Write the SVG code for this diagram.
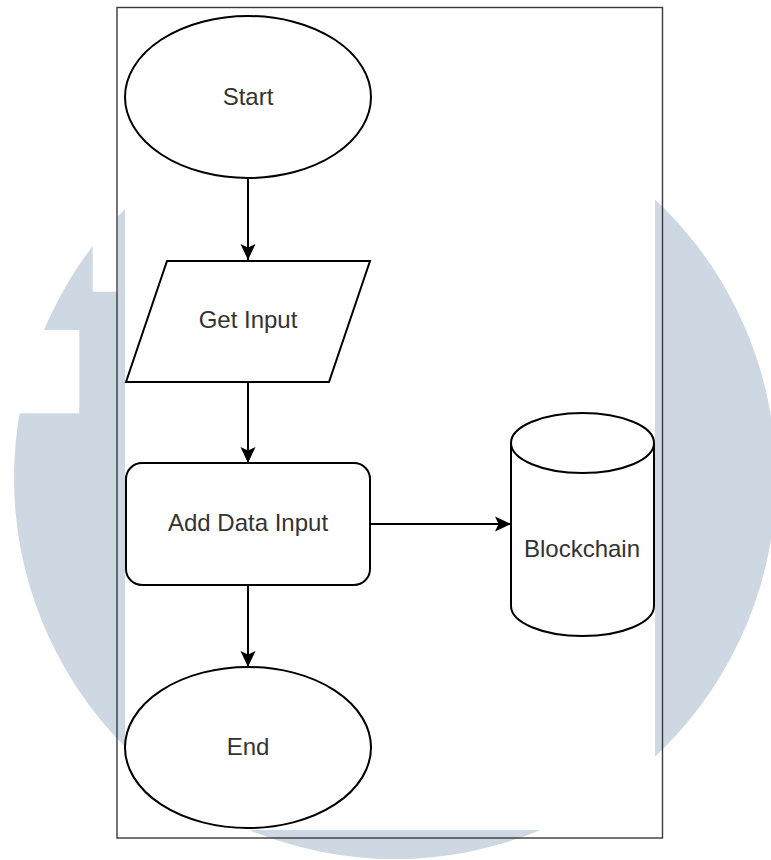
<svg xmlns="http://www.w3.org/2000/svg" width="771" height="860" viewBox="0 0 771 860">
  <style>
    .shape { fill: #ffffff; stroke: #000000; stroke-width: 2; }
    .label { font-family: "Liberation Sans", Arial, sans-serif; font-size: 24px; fill: #333333; text-anchor: middle; }
    .edge { fill: none; stroke: #000000; stroke-width: 2; marker-end: url(#arrow); }
  </style>
  <defs>
    <marker id="arrow" markerUnits="userSpaceOnUse" viewBox="0 0 16 16" markerWidth="16" markerHeight="16" refX="16" refY="8" orient="auto">
      <path d="M0,0.5 L16,8 L0,15.5 L3.5,8 Z" fill="#000000"/>
    </marker>
  </defs>
  <rect x="0" y="0" width="771" height="860" fill="#ffffff"/>
  <g id="watermark">
    <circle cx="395" cy="478" r="381" fill="#cdd8e2"/>
    <rect x="92.7" y="0" width="25.3" height="291.7" fill="#ffffff"/>
    <rect x="0" y="330" width="79.3" height="83.3" fill="#ffffff"/>
  </g>
  <rect id="canvas" x="125" y="8" width="530" height="822" fill="#ffffff"/>
  <rect id="frame" x="117" y="7.5" width="545.5" height="830.5" fill="none" stroke="#3a3a3a" stroke-width="1.4"/>
  <g id="connectors">
    <path class="edge" d="M248,178 L248,260"/>
    <path class="edge" d="M248,382 L248,463"/>
    <path class="edge" d="M370,524 L511,524"/>
    <path class="edge" d="M248,585 L248,667"/>
  </g>
  <g id="start">
    <ellipse class="shape" cx="248" cy="97" rx="123" ry="81"/>
    <text class="label" x="248" y="105">Start</text>
  </g>
  <g id="get-input">
    <polygon class="shape" points="167,261 370,261 329,382 126,382"/>
    <text class="label" x="248" y="328">Get Input</text>
  </g>
  <g id="add-data-input">
    <rect class="shape" x="126" y="463" width="244" height="122" rx="16" ry="16"/>
    <text class="label" x="248" y="531">Add Data Input</text>
  </g>
  <g id="blockchain">
    <path class="shape" d="M511,443 L511,606 A71.5,30 0 0 0 654,606 L654,443"/>
    <ellipse class="shape" cx="582.5" cy="443" rx="71.5" ry="30"/>
    <text class="label" x="582" y="557">Blockchain</text>
  </g>
  <g id="end">
    <ellipse class="shape" cx="248" cy="747.5" rx="123" ry="80.5"/>
    <text class="label" x="248" y="755">End</text>
  </g>
</svg>
